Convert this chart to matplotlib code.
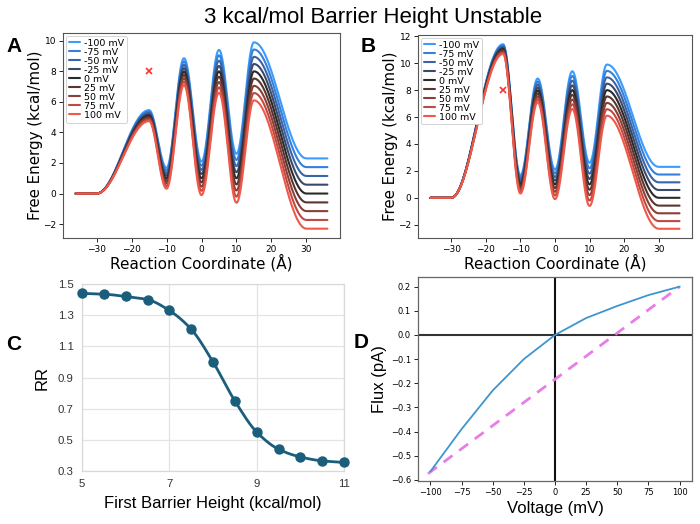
import numpy as np
import matplotlib
matplotlib.use("Agg")
import matplotlib.pyplot as plt

# ---------------- data ----------------
voltages = [-100, -75, -50, -25, 0, 25, 50, 75, 100]
volt_labels = ["-100 mV", "-75 mV", "-50 mV", "-25 mV", "0 mV", "25 mV", "50 mV", "75 mV", "100 mV"]
volt_colors = ["#3b9cff", "#3580d8", "#3a64a8", "#3a4a6a", "#2a2a2a",
               "#5a3530", "#8a3f38", "#c04a40", "#f0584a"]

# reaction-coordinate knots (extrema / plateau edges), Å
knots_x = [-36, -30, -15, -10, -5, 0, 5, 10, 15, 30, 36]

# free energy at knots for each voltage (rows follow `voltages`), panel A
energy_A = [
    [0, 0, 5.46, 1.68, 8.86, 2.10, 9.40, 2.60, 9.90, 2.30, 2.30],
    [0, 0, 5.37, 1.51, 8.64, 1.83, 9.05, 2.20, 9.43, 1.73, 1.73],
    [0, 0, 5.28, 1.34, 8.42, 1.55, 8.70, 1.80, 8.95, 1.15, 1.15],
    [0, 0, 5.19, 1.17, 8.20, 1.28, 8.35, 1.40, 8.48, 0.58, 0.58],
    [0, 0, 5.10, 1.00, 7.98, 1.00, 8.00, 1.00, 8.00, 0.00, 0.00],
    [0, 0, 5.01, 0.83, 7.76, 0.73, 7.65, 0.60, 7.53, -0.58, -0.58],
    [0, 0, 4.92, 0.66, 7.54, 0.45, 7.30, 0.20, 7.05, -1.15, -1.15],
    [0, 0, 4.83, 0.49, 7.32, 0.18, 6.95, -0.20, 6.58, -1.73, -1.73],
    [0, 0, 4.74, 0.32, 7.10, -0.10, 6.60, -0.60, 6.10, -2.30, -2.30],
]
# panel B (higher first barrier)
energy_B = [
    [0, 0, 11.41, 1.68, 8.86, 2.10, 9.40, 2.60, 9.90, 2.30, 2.30],
    [0, 0, 11.32, 1.51, 8.64, 1.83, 9.05, 2.20, 9.43, 1.73, 1.73],
    [0, 0, 11.23, 1.34, 8.42, 1.55, 8.70, 1.80, 8.95, 1.15, 1.15],
    [0, 0, 11.14, 1.17, 8.20, 1.28, 8.35, 1.40, 8.48, 0.58, 0.58],
    [0, 0, 11.05, 1.00, 7.98, 1.00, 8.00, 1.00, 8.00, 0.00, 0.00],
    [0, 0, 10.96, 0.83, 7.76, 0.73, 7.65, 0.60, 7.53, -0.58, -0.58],
    [0, 0, 10.87, 0.66, 7.54, 0.45, 7.30, 0.20, 7.05, -1.15, -1.15],
    [0, 0, 10.78, 0.49, 7.32, 0.18, 6.95, -0.20, 6.58, -1.73, -1.73],
    [0, 0, 10.69, 0.32, 7.10, -0.10, 6.60, -0.60, 6.10, -2.30, -2.30],
]
marker_x = [-15]
marker_y = [8]

# panel C
barrier = [5, 5.5, 6, 6.5, 7, 7.5, 8, 8.5, 9, 9.5, 10, 10.5, 11]
rr = [1.44, 1.435, 1.42, 1.40, 1.33, 1.21, 1.00, 0.75, 0.55, 0.44, 0.39, 0.365, 0.355]

# panel D
volt_d = [-100, -75, -50, -25, 0, 25, 50, 75, 100]
flux = [-0.565, -0.39, -0.23, -0.10, 0.0, 0.07, 0.12, 0.165, 0.20]
ref_x = [-102, 100]
ref_y = [-0.575, 0.20]


# ---------------- helpers (drawing only) ----------------
def smooth_between_knots(xk, yk, n=40):
    """cosine easing between consecutive knots (zero slope at extrema)."""
    xs, ys = [], []
    for i in range(len(xk) - 1):
        t = np.linspace(0, 1, n, endpoint=False)
        xs.append(xk[i] + (xk[i + 1] - xk[i]) * t)
        ys.append(yk[i] + (yk[i + 1] - yk[i]) * (1 - np.cos(np.pi * t)) / 2)
    xs.append([xk[-1]]); ys.append([yk[-1]])
    return np.concatenate(xs), np.concatenate(ys)


def monotone_cubic(x, y, n=400):
    x = np.asarray(x, float); y = np.asarray(y, float)
    h = np.diff(x); d = np.diff(y) / h
    m = np.zeros_like(y)
    m[0], m[-1] = d[0], d[-1]
    for i in range(1, len(x) - 1):
        if d[i - 1] * d[i] <= 0:
            m[i] = 0
        else:
            w1 = 2 * h[i] + h[i - 1]; w2 = h[i] + 2 * h[i - 1]
            m[i] = (w1 + w2) / (w1 / d[i - 1] + w2 / d[i])
    xs = np.linspace(x[0], x[-1], n)
    idx = np.clip(np.searchsorted(x, xs) - 1, 0, len(x) - 2)
    t = (xs - x[idx]) / h[idx]
    h00 = 2 * t**3 - 3 * t**2 + 1; h10 = t**3 - 2 * t**2 + t
    h01 = -2 * t**3 + 3 * t**2; h11 = t**3 - t**2
    ys = h00 * y[idx] + h10 * h[idx] * m[idx] + h01 * y[idx + 1] + h11 * h[idx] * m[idx + 1]
    return xs, ys


W, H = 700, 524
fig = plt.figure(figsize=(W / 100, H / 100), dpi=100)


def axes_px(l, t, r, b):
    return fig.add_axes([l / W, 1 - b / H, (r - l) / W, (b - t) / H])


arial = ["Liberation Sans", "DejaVu Sans"]

fig.text(373 / W, 1 - 18 / H, "3 kcal/mol Barrier Height Unstable",
         ha="center", va="center", fontsize=16, family=arial)


def energy_panel(ax, table):
    for row, lab, col in zip(table, volt_labels, volt_colors):
        xs, ys = smooth_between_knots(knots_x, row)
        ax.plot(xs, ys, color=col, lw=1.5, label=lab, solid_capstyle="round")
    ax.plot(marker_x, marker_y, "x", color="#ff3030", ms=4, mew=1.2)
    ax.set_xlabel("Reaction Coordinate (Å)", fontsize=11, labelpad=0)
    ax.set_ylabel("Free Energy (kcal/mol)", fontsize=10.8, labelpad=0)
    ax.tick_params(labelsize=6.5, length=3, width=0.6, pad=2)
    ax.set_xticks([-30, -20, -10, 0, 10, 20, 30])
    for s in ax.spines.values():
        s.set_color("#555555"); s.set_linewidth(0.8)
    leg = ax.legend(loc="upper left", fontsize=6.8, handlelength=1.2, labelspacing=0.0,
                    handletextpad=0.4, borderpad=0.3, borderaxespad=0.3, framealpha=1)
    for h in leg.get_lines():
        h.set_linewidth(1.5)
    leg.get_frame().set_linewidth(0.6)


axA = axes_px(63, 33, 340, 238)
energy_panel(axA, energy_A)
axA.set_yticks([-2, 0, 2, 4, 6, 8, 10])

axB = axes_px(418, 35, 692, 238)
energy_panel(axB, energy_B)
axB.set_yticks([-2, 0, 2, 4, 6, 8, 10, 12])

# ---- panel C ----
axC = axes_px(82, 284, 344, 471)
axC.set_facecolor("white")
xs, ys = monotone_cubic(barrier, rr)
axC.plot(xs, ys, color="#1b5e7b", lw=2, zorder=3, clip_on=False)
axC.plot(barrier, rr, "o", color="#1b5e7b", ms=6.5, zorder=4, clip_on=False)
axC.set_xlim(5, 11); axC.set_ylim(0.3, 1.5)
axC.set_xticks([5, 7, 9, 11]); axC.set_yticks([0.3, 0.5, 0.7, 0.9, 1.1, 1.3, 1.5])
axC.grid(True, color="#e3e3e3", lw=0.9)
axC.set_axisbelow(True)
for s in axC.spines.values():
    s.set_color("#d9d9d9"); s.set_linewidth(0.9)
axC.tick_params(length=0, labelsize=8.2, pad=6, labelcolor="#333333")
for lab in axC.get_xticklabels() + axC.get_yticklabels():
    lab.set_family(arial)
axC.set_xlabel("First Barrier Height (kcal/mol)", fontsize=12, family=arial, labelpad=5)
axC.set_ylabel("RR", fontsize=12, family=arial, labelpad=6)

# ---- panel D ----
axD = axes_px(418, 277, 692, 481)
axD.axhline(0, color="#333333", lw=1.5, zorder=1)
axD.axvline(0, color="#111111", lw=1.5, zorder=1)
axD.plot(volt_d, flux, color="#3d96cf", lw=1.3, zorder=3)
axD.plot(ref_x, ref_y, "--", color="#e97de6", lw=2, dashes=(4, 3), zorder=2)
axD.set_xlim(-110, 110); axD.set_ylim(-0.605, 0.24)
axD.set_xticks([-100, -75, -50, -25, 0, 25, 50, 75, 100])
axD.set_yticks([-0.6, -0.5, -0.4, -0.3, -0.2, -0.1, 0.0, 0.1, 0.2])
axD.tick_params(labelsize=6, length=3, width=0.6, pad=2)
for s in axD.spines.values():
    s.set_color("#666666"); s.set_linewidth(0.9)
axD.set_xlabel("Voltage (mV)", fontsize=12, family=arial, labelpad=3)
axD.set_ylabel("Flux (pA)", fontsize=12, family=arial, labelpad=3)

# panel letters
for x, y, t in [(14, 46, "A"), (368, 46, "B"), (14, 344, "C"), (361, 343, "D")]:
    fig.text(x / W, 1 - y / H, t, fontsize=15, fontweight="bold", family=arial,
             ha="center", va="center")

fig.savefig("out.png", dpi=100)
